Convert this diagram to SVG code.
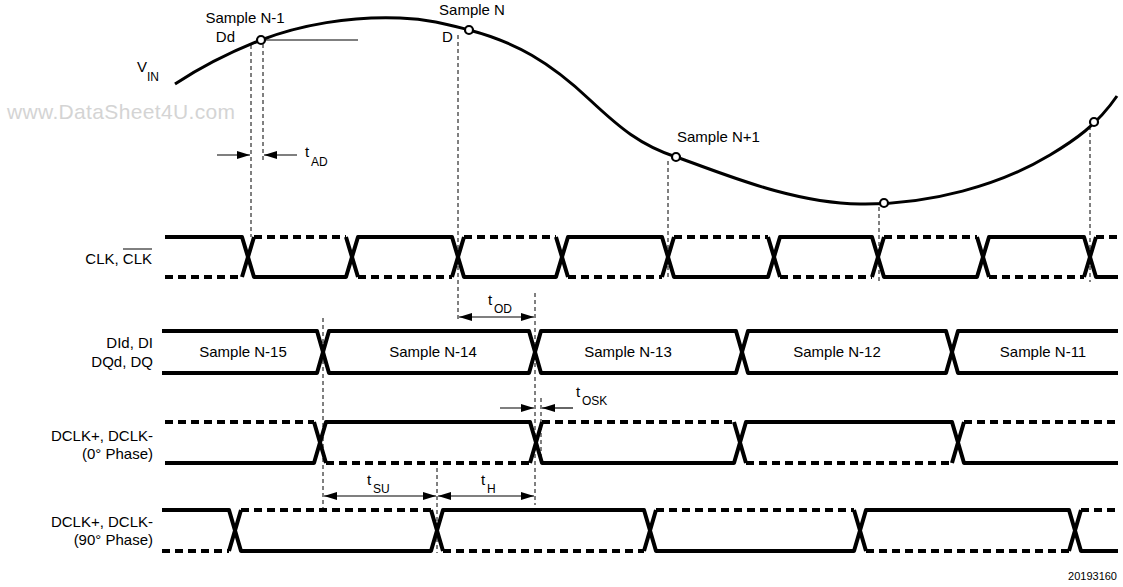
<svg xmlns="http://www.w3.org/2000/svg" width="1123" height="587" viewBox="0 0 1123 587">
<style>
.w{stroke:#000;stroke-width:4;fill:none;stroke-linejoin:round}
.wd{stroke:#000;stroke-width:4;fill:none;stroke-dasharray:8 5}
.g{stroke:#000;stroke-width:1;fill:none;stroke-dasharray:4 3}
.a{stroke:#000;stroke-width:1.2;fill:none;marker-end:url(#ah)}
.aa{stroke:#000;stroke-width:1.2;fill:none;marker-end:url(#ah);marker-start:url(#ah)}
.dot{fill:#fff;stroke:#000;stroke-width:2.2}
text{font-family:"Liberation Sans",Arial,sans-serif;font-size:15px;fill:#000}
.s{font-size:12px}
.r{text-anchor:end}
.c{text-anchor:middle}
</style>
<defs>
<marker id="ah" viewBox="0 0 13 8" refX="13" refY="4" markerWidth="13" markerHeight="8" markerUnits="userSpaceOnUse" orient="auto-start-reverse">
<path d="M0,0L13,4L0,8z" fill="#000"/>
</marker>
</defs>
<rect width="1123" height="587" fill="#fff"/>
<text x="7" y="119" textLength="228" style="font-size:21px;fill:#d4d4d4">www.DataSheet4U.com</text>

<g id="vin">
<path d="M175,84 Q215,58 261,40 C300,25 350,16 400,18 C430,19 450,25 469,30 C515,42 550,62 590,100 C620,128 640,145 676,157 C720,172 790,203 860,204 C930,205 1000,185 1050,155 C1075,140 1097,125 1117,96" stroke="#000" stroke-width="3" fill="none"/>
<line x1="265" y1="40" x2="358" y2="40" stroke="#000" stroke-width="1.2"/>
<circle class="dot" cx="261" cy="40" r="4"/>
<circle class="dot" cx="469" cy="30" r="4"/>
<circle class="dot" cx="676" cy="157" r="4"/>
<circle class="dot" cx="884" cy="203" r="4"/>
<circle class="dot" cx="1094" cy="122" r="4"/>
<text x="137" y="72">V</text><text class="s" x="147" y="81">IN</text>
<text class="c" x="245" y="23">Sample N-1</text>
<text class="r" x="235" y="42">Dd</text>
<text class="c" x="472" y="15">Sample N</text>
<text x="442" y="42">D</text>
<text x="677" y="142">Sample N+1</text>
</g>

<g id="clk">
<text class="r" x="152" y="264">CLK, CLK</text>
<line x1="123" y1="249" x2="152" y2="249" stroke="#000" stroke-width="1"/>
<path class="w" d="M165,237H242L254,277H346L358,237H452L464,277H556L568,237H662L674,277H768L780,237H872L884,277H977L989,237H1084L1096,277H1118"/>
<path class="wd" d="M165,277H242M254,237H346M358,277H452M464,237H556M568,277H662M674,237H768M780,277H872M884,237H977M989,277H1084M1096,237H1118"/>
<path class="w" d="M242,277L254,237M346,237L358,277M452,277L464,237M556,237L568,277M662,277L674,237M768,237L780,277M872,277L884,237M977,237L989,277M1084,277L1096,237"/>
</g>

<g id="data">
<text class="r" x="153" y="348">DId, DI</text>
<text class="r" x="153" y="367">DQd, DQ</text>
<path class="w" d="M162,331H317L329,373H529L541,331H736L748,373H946L958,331H1118"/>
<path class="w" d="M162,373H317L329,331H529L541,373H736L748,331H946L958,373H1118"/>
<text class="c" x="243" y="357">Sample N-15</text>
<text class="c" x="433" y="357">Sample N-14</text>
<text class="c" x="628" y="357">Sample N-13</text>
<text class="c" x="837" y="357">Sample N-12</text>
<text class="c" x="1043" y="357">Sample N-11</text>
</g>

<g id="dclk0">
<text class="r" x="153" y="441">DCLK+, DCLK-</text>
<text class="r" x="153" y="459">(0° Phase)</text>
<path class="w" d="M165,463H314L326,422H530L542,463H734L746,422H952L964,463H1118"/>
<path class="wd" d="M165,422H314M326,463H530M542,422H734M746,463H952M964,422H1118"/>
<path class="w" d="M314,422L326,463M530,463L542,422M734,422L746,463M952,463L964,422"/>
</g>

<g id="dclk90">
<text class="r" x="153" y="527">DCLK+, DCLK-</text>
<text class="r" x="153" y="545">(90° Phase)</text>
<path class="w" d="M162,510H229L241,551H431L443,510H644L656,551H854L866,510H1069L1081,551H1118"/>
<path class="wd" d="M162,551H229M241,510H431M443,551H644M656,510H854M866,551H1069M1081,510H1118"/>
<path class="w" d="M229,551L241,510M431,510L443,551M644,551L656,510M854,510L866,551M1069,551L1081,510"/>
</g>

<g id="connectors">
<line class="g" x1="251" y1="45" x2="251" y2="237"/>
<line class="g" x1="263" y1="44" x2="263" y2="162"/>
<line class="g" x1="458" y1="35" x2="458" y2="322"/>
<line class="g" x1="668" y1="161" x2="668" y2="280"/>
<line class="g" x1="879" y1="207" x2="879" y2="282"/>
<line class="g" x1="1090" y1="126" x2="1090" y2="282"/>
<line class="g" x1="323" y1="318" x2="323" y2="508"/>
<line class="g" x1="535" y1="293" x2="535" y2="505"/>
<line class="g" x1="541" y1="398" x2="541" y2="462"/>
<line class="g" x1="437" y1="468" x2="437" y2="553"/>
<line class="a" x1="217" y1="155" x2="250" y2="155"/>
<line class="a" x1="297" y1="155" x2="264" y2="155"/>
<line class="aa" x1="459" y1="317" x2="534" y2="317"/>
<line class="a" x1="500" y1="408" x2="534" y2="408"/>
<line class="a" x1="573" y1="408" x2="542" y2="408"/>
<line class="aa" x1="324" y1="496" x2="436" y2="496"/>
<line class="aa" x1="438" y1="496" x2="534" y2="496"/>
</g>

<g id="labels">
<text x="305" y="157">t</text><text class="s" x="311" y="166">AD</text>
<text x="488" y="305">t</text><text class="s" x="494" y="313">OD</text>
<text x="576" y="397">t</text><text class="s" x="582" y="405">OSK</text>
<text x="367" y="485">t</text><text class="s" x="373" y="493">SU</text>
<text x="481" y="485">t</text><text class="s" x="487" y="493">H</text>
<text class="r" x="1117" y="580" style="font-size:11px">20193160</text>
</g>
</svg>
